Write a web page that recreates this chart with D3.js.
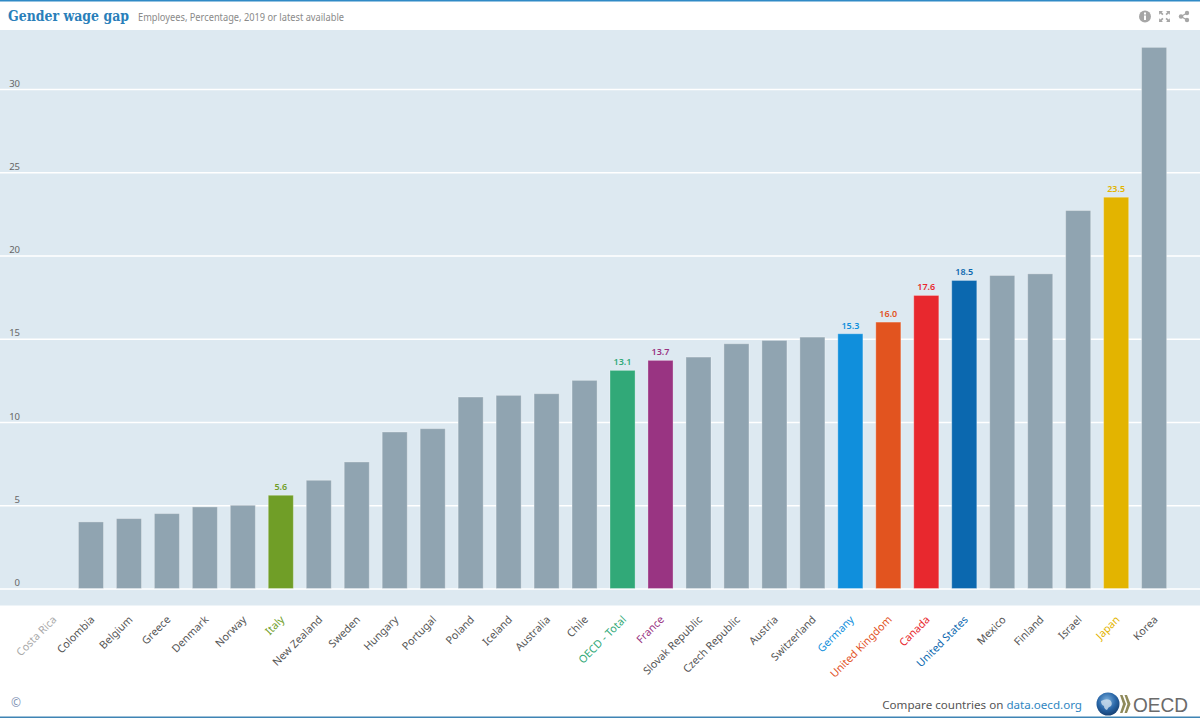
<!DOCTYPE html>
<html>
<head>
<meta charset="utf-8">
<title>Gender wage gap</title>
<script src="https://cdn.jsdelivr.net/npm/d3@7"></script>
<style>
  html, body { margin: 0; padding: 0; background: #fff; }
  svg { display: block; font-family: "Noto Sans", "Open Sans", sans-serif; }
</style>
</head>
<body>
<script>
// values
const countries = ['Costa Rica', 'Colombia', 'Belgium', 'Greece', 'Denmark', 'Norway', 'Italy', 'New Zealand', 'Sweden', 'Hungary',
    'Portugal', 'Poland', 'Iceland', 'Australia', 'Chile', 'OECD - Total', 'France', 'Slovak Republic', 'Czech Republic', 'Austria',
    'Switzerland', 'Germany', 'United Kingdom', 'Canada', 'United States', 'Mexico', 'Finland', 'Israel', 'Japan', 'Korea']
const gaps = [null, 4.0, 4.2, 4.5, 4.9, 5.0, 5.6, 6.5, 7.6, 9.4,
    9.6, 11.5, 11.6, 11.7, 12.5, 13.1, 13.7, 13.9, 14.7, 14.9,
    15.1, 15.3, 16.0, 17.6, 18.5, 18.8, 18.9, 22.7, 23.5, 32.5]
const highlighted = ['Italy', 'OECD - Total', 'France', 'Germany', 'United Kingdom', 'Canada', 'United States', 'Japan']
const highlightColors = ['#709e27', '#31a978', '#993482', '#108fdc', '#e2541f', '#e8282e', '#0b68af', '#e3b400']
const yTicks = [0, 5, 10, 15, 20, 25, 30]

const width = 1200
const height = 718
const blue = '#2f8ac6'

const colour = d3.scaleOrdinal().domain(highlighted).range(highlightColors).unknown('#90a4b1')
const labelColour = d => d === 'Costa Rica' ? '#aaaaaa' : (highlighted.includes(d) ? colour(d) : '#555555')

const x = d3.scaleBand().domain(countries).range([34, 1173.1]).paddingInner(0.34).paddingOuter(0.17)
const y = d3.scaleLinear().domain([0, 30]).range([588.5, 89])

const svg = d3.select('body').append('svg')
    .attr('width', width)
    .attr('height', height)

// frame
svg.append('rect').attr('x', 0).attr('y', 0).attr('width', width).attr('height', 1.5).attr('fill', blue)
svg.append('rect').attr('x', 0).attr('y', 716.5).attr('width', width).attr('height', 1.5).attr('fill', '#3f84b4')
svg.append('rect').attr('x', 0).attr('y', 30).attr('width', width).attr('height', 575.5).attr('fill', '#dde9f1')

// header
svg.append('text')
    .attr('x', 8).attr('y', 21)
    .attr('font-family', '"DejaVu Serif", serif')
    .attr('font-weight', 'bold')
    .attr('font-size', 14)
    .attr('textLength', 121)
    .attr('lengthAdjust', 'spacingAndGlyphs')
    .attr('fill', '#2a7fba')
    .text('Gender wage gap')
svg.append('text')
    .attr('x', 138).attr('y', 20.5)
    .attr('font-size', 10)
    .attr('textLength', 206)
    .attr('lengthAdjust', 'spacingAndGlyphs')
    .attr('fill', '#8a8a8a')
    .text('Employees, Percentage, 2019 or latest available')

// y axis: grid lines run the full width, labels sit on top of them
const yAxis = svg.append('g')
    .call(d3.axisLeft(y).tickValues(yTicks).tickSize(-width).tickPadding(0))
yAxis.select('.domain').remove()
yAxis.selectAll('.tick line')
    .attr('stroke', '#ffffff')
    .attr('stroke-width', 1.4)
yAxis.selectAll('.tick text')
    .attr('x', 20)
    .attr('dy', -3)
    .attr('text-anchor', 'end')
    .attr('font-family', '"Noto Sans", sans-serif')
    .attr('font-size', 9.5)
    .attr('fill', '#666666')

// bars
const rows = countries.map((c, i) => ({ country: c, gap: gaps[i] })).filter(d => d.gap !== null)

svg.append('g').selectAll('rect')
    .data(rows)
    .join('rect')
    .attr('x', d => x(d.country))
    .attr('y', d => y(d.gap))
    .attr('width', x.bandwidth())
    .attr('height', d => y(0) - y(d.gap))
    .attr('fill', d => colour(d.country))
    .attr('stroke', '#ffffff')
    .attr('stroke-opacity', 0.3)
    .attr('stroke-width', 1)

// value labels only on highlighted bars
svg.append('g').selectAll('text')
    .data(rows.filter(d => highlighted.includes(d.country)))
    .join('text')
    .attr('x', d => x(d.country) + x.bandwidth() / 2)
    .attr('y', d => y(d.gap) - 5)
    .attr('text-anchor', 'middle')
    .attr('font-size', 9)
    .attr('font-weight', 600)
    .attr('fill', d => colour(d.country))
    .text(d => d.gap.toFixed(1))

// x axis labels
const xAxis = svg.append('g')
    .attr('transform', 'translate(0,612)')
    .call(d3.axisBottom(x).tickSize(0).tickPadding(0))
xAxis.select('.domain').remove()
xAxis.selectAll('.tick text')
    .attr('font-family', '"Noto Sans", sans-serif')
    .attr('font-size', 10.7)
    .attr('text-anchor', 'end')
    .attr('dy', '0.7em')
    .attr('transform', 'translate(-1,3) rotate(-45)')
    .attr('fill', d => labelColour(d))

// footer
svg.append('text')
    .attr('x', 11).attr('y', 707)
    .attr('font-size', 12)
    .attr('fill', '#7f93b5')
    .text('©')
const footer = svg.append('text')
    .attr('x', 1082).attr('y', 708.5)
    .attr('text-anchor', 'end')
    .attr('font-size', 11.6)
    .attr('fill', '#555555')
footer.append('tspan').text('Compare countries on ')
footer.append('tspan').attr('fill', '#2f86c1').text('data.oecd.org')

// OECD logo
const grad = svg.append('defs').append('radialGradient')
    .attr('id', 'globe').attr('cx', '45%').attr('cy', '35%').attr('r', '70%')
grad.append('stop').attr('offset', '0%').attr('stop-color', '#7fb2de')
grad.append('stop').attr('offset', '55%').attr('stop-color', '#2a67a8')
grad.append('stop').attr('offset', '100%').attr('stop-color', '#123a6b')
svg.append('circle').attr('cx', 1108).attr('cy', 704).attr('r', 11.5).attr('fill', 'url(#globe)')
svg.append('path')
    .attr('d', 'M1101 701 q5 -3 9 -1 q3 3 1 6 q-3 1 -4 4 q-3 -1 -3 -4 q-3 -1 -3 -5z')
    .attr('fill', '#cfe0ee').attr('opacity', 0.8)
svg.append('path')
    .attr('d', 'M1120 695 l2.5 0 l3.5 9 l-3.5 9 l-2.5 0 l3 -9z M1124.5 695 l2.5 0 l3.5 9 l-3.5 9 l-2.5 0 l3 -9z')
    .attr('fill', '#8f8a5a')
svg.append('text')
    .attr('x', 1133).attr('y', 712)
    .attr('font-family', '"Liberation Sans", sans-serif')
    .attr('font-size', 19.5)
    .attr('textLength', 55)
    .attr('lengthAdjust', 'spacingAndGlyphs')
    .attr('fill', '#6b6b6b')
    .text('OECD')

// header icons
const icons = svg.append('g').attr('fill', '#a6a6a6')
icons.append('circle').attr('cx', 1145).attr('cy', 16.5).attr('r', 6)
icons.append('rect').attr('x', 1144).attr('y', 15.5).attr('width', 2).attr('height', 4.5).attr('fill', '#ffffff')
icons.append('rect').attr('x', 1144).attr('y', 12.5).attr('width', 2).attr('height', 2).attr('fill', '#ffffff')
icons.append('path')
    .attr('d', 'M1159 11 h4 l-1.3 1.3 1.8 1.8 -1.2 1.2 -1.8 -1.8 -1.3 1.3z M1170 11 h-4 l1.3 1.3 -1.8 1.8 1.2 1.2 1.8 -1.8 1.3 1.3z M1159 22 h4 l-1.3 -1.3 1.8 -1.8 -1.2 -1.2 -1.8 1.8 -1.3 -1.3z M1170 22 h-4 l1.3 -1.3 -1.8 -1.8 1.2 -1.2 1.8 1.8 1.3 -1.3z')
icons.append('circle').attr('cx', 1181).attr('cy', 16.5).attr('r', 2.2)
icons.append('circle').attr('cx', 1187).attr('cy', 13).attr('r', 2.2)
icons.append('circle').attr('cx', 1187).attr('cy', 20).attr('r', 2.2)
icons.append('path')
    .attr('d', 'M1187 13 L1181 16.5 L1187 20')
    .attr('fill', 'none').attr('stroke', '#a6a6a6').attr('stroke-width', 1.2)
</script>
</body>
</html>
